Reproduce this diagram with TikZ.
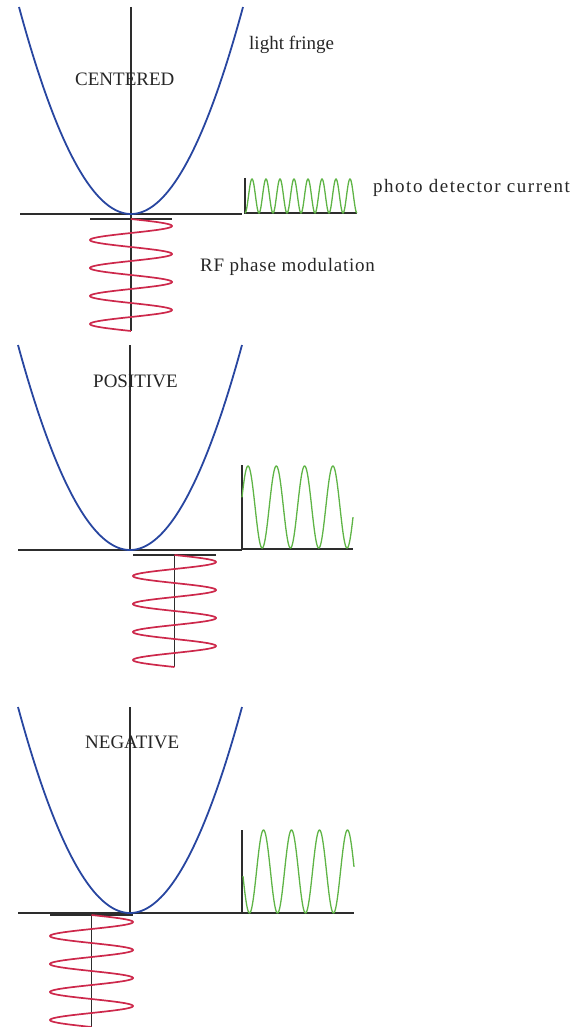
\documentclass[tikz,border=0pt]{standalone}
\usepackage{fontspec}
\setmainfont{Liberation Serif}
\definecolor{fringeblue}{RGB}{40,70,160}
\definecolor{rfred}{RGB}{205,40,75}
\definecolor{pdgreen}{RGB}{95,180,70}
\definecolor{axisgray}{RGB}{45,45,45}
\begin{document}
\begin{tikzpicture}[x=1pt,y=-1pt,
  axisline/.style={draw=axisgray,line width=1.1pt},
  fringe/.style={draw=fringeblue,line width=1.8pt},
  rfwave/.style={draw=rfred,line width=1.7pt},
  pdwave/.style={draw=pdgreen,line width=1.3pt},
  lbl/.style={inner sep=0pt,anchor=base west,text=black!85,font=\fontsize{19}{21}\selectfont}]
\useasboundingbox (0,0) rectangle (584,1027);

% ---------- CENTERED ----------
\draw[axisline] (20,214) -- (242,214);
\draw[axisline] (131,7) -- (131,331);
\draw[fringe] plot[domain=-112:112,samples=120] ({131+\x},{214-207*(\x/112)^2});
\draw[axisline] (90,219) -- (172,219);
\draw[rfwave] plot[domain=0:112,samples=240] ({131+41*sin(\x/28*360)},{219+\x});
\draw[axisline] (245,178) -- (245,213) -- (357,213);
\draw[pdwave] plot[domain=245:357,samples=300] (\x,{213-17*(1-cos((\x-245)/14*360))});
\node[lbl] (fringe) at (249,50) {light fringe};
\node[lbl] (centered) at (75,86) {CENTERED};
\node[lbl] (pd) at (373,193) {\addfontfeature{LetterSpace=8}photo detector current};
\node[lbl] (rf) at (200,271) {\addfontfeature{LetterSpace=4}RF phase modulation};

% ---------- POSITIVE ----------
\draw[axisline] (18,550) -- (242,550);
\draw[axisline] (130,345) -- (130,550);
\draw[fringe] plot[domain=-112:112,samples=120] ({130+\x},{550-205*(\x/112)^2});
\draw[axisline] (133,555) -- (216,555);
\draw[axisline] (174.5,555) -- (174.5,667);
\draw[rfwave] plot[domain=0:112,samples=240] ({174.5+41.5*sin(\x/28*360)},{555+\x});
\draw[axisline] (242,465) -- (242,549) -- (353,549);
\draw[pdwave] plot[domain=242:353,samples=300] (\x,{507-41*cos((\x-248)/28.3*360)});
\node[lbl] (positive) at (93,387) {POSITIVE};

% ---------- NEGATIVE ----------
\draw[axisline] (18,913) -- (354,913);
\draw[axisline] (130,707) -- (130,913);
\draw[fringe] plot[domain=-112:112,samples=120] ({130+\x},{913-206*(\x/112)^2});
\draw[axisline] (50,915) -- (133,915);
\draw[axisline] (91.5,915) -- (91.5,1027);
\draw[rfwave] plot[domain=0:112,samples=240] ({91.5+41.5*sin(\x/28*360)},{915+\x});
\draw[axisline] (242,830) -- (242,913);
\draw[pdwave] plot[domain=243:354,samples=300] (\x,{871.5-41.5*cos((\x-263.5)/28*360)});
\node[lbl] (negative) at (85,748) {NEGATIVE};
\end{tikzpicture}
\end{document}
